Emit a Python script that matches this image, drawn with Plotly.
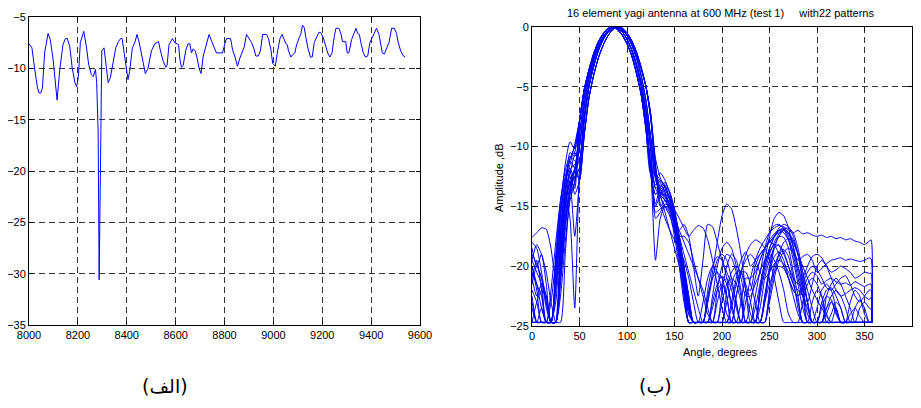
import plotly.graph_objects as go

# ---- left panel (الف): level vs frequency ----
freq = [8000, 8012, 8023, 8034, 8041, 8048, 8055, 8064, 8078, 8087,
        8098, 8109, 8115, 8126, 8139, 8149, 8157, 8167, 8177, 8188,
        8195, 8202, 8210, 8224, 8235, 8244, 8255, 8263, 8272, 8277,
        8283, 8287, 8291, 8298, 8307, 8314, 8324, 8333, 8344, 8355,
        8366, 8375, 8381, 8392, 8405, 8412, 8423, 8433, 8442, 8451,
        8460, 8470, 8476, 8487, 8501, 8515, 8524, 8530, 8538, 8549,
        8560, 8565, 8573, 8587, 8597, 8603, 8612, 8618, 8624, 8631,
        8642, 8651, 8658, 8665, 8672, 8680, 8688, 8696, 8704, 8713,
        8726, 8737, 8748, 8758, 8767, 8781, 8792, 8797, 8808, 8825,
        8833, 8842, 8853, 8863, 8874, 8881, 8890, 8901, 8911, 8922,
        8928, 8938, 8947, 8956, 8972, 8980, 8990, 8997, 9008, 9016,
        9027, 9036, 9044, 9051, 9057, 9062, 9072, 9078, 9088, 9095,
        9106, 9113, 9119, 9126, 9133, 9143, 9152, 9159, 9167, 9177,
        9186, 9193, 9204, 9215, 9222, 9231, 9240, 9249, 9256, 9268,
        9276, 9283, 9296, 9302, 9309, 9320, 9330, 9338, 9345, 9352,
        9358, 9368, 9377, 9386, 9395, 9405, 9416, 9422, 9432, 9439,
        9446, 9454, 9464, 9473, 9484, 9495, 9504, 9511, 9521, 9532,
        9539]
level = [-7.6, -8.0, -10.0, -11.8, -12.4, -12.4, -11.9, -8.5, -6.6, -7.2,
         -9.0, -11.4, -13.1, -10.1, -7.7, -7.1, -7.1, -7.9, -10.0, -11.4,
         -11.8, -10.8, -7.5, -6.4, -7.9, -9.6, -10.6, -10.8, -10.1, -11.4,
         -16.3, -30.6, -19.6, -8.3, -8.0, -9.5, -11.4, -10.9, -9.3, -8.0,
         -7.4, -7.1, -7.1, -8.8, -11.1, -10.3, -8.0, -7.5, -6.7, -7.5,
         -8.5, -9.5, -10.5, -10.0, -8.3, -7.6, -7.5, -7.4, -8.3, -9.3,
         -9.9, -9.7, -7.7, -7.1, -7.5, -7.6, -7.7, -9.2, -9.9, -9.7,
         -8.2, -7.6, -7.6, -8.5, -8.1, -8.3, -9.0, -10.0, -10.5, -8.8,
         -7.5, -6.7, -7.4, -7.9, -8.5, -8.5, -8.5, -8.0, -7.1, -7.1,
         -8.2, -8.8, -9.8, -9.0, -8.2, -7.9, -6.7, -7.1, -7.5, -8.2,
         -8.8, -8.8, -8.3, -6.7, -6.7, -7.1, -8.2, -9.5, -9.8, -8.5,
         -7.1, -6.7, -7.2, -7.6, -7.7, -8.3, -8.9, -8.7, -8.5, -7.7,
         -7.0, -6.6, -5.8, -6.0, -7.0, -8.2, -8.9, -8.9, -7.5, -7.0,
         -6.5, -6.5, -7.0, -7.9, -8.5, -8.9, -8.5, -6.9, -6.1, -6.1,
         -6.6, -7.4, -7.4, -8.5, -8.5, -7.2, -6.6, -6.1, -6.6, -6.7,
         -7.5, -8.5, -8.9, -8.8, -7.5, -7.0, -6.4, -6.1, -6.7, -7.5,
         -8.5, -8.6, -8.0, -7.5, -6.1, -6.1, -6.6, -7.5, -8.3, -8.8,
         -8.9]

# ---- right panel (ب): 22 antenna patterns ----
angle = [0, 5, 10, 15, 20, 25, 30, 35, 40, 45,
         50, 55, 60, 65, 70, 75, 80, 85, 90, 95, 100, 105, 110, 115, 120, 125,
         130, 135, 140, 145, 150, 155, 160, 165, 170, 175,
         180, 185, 190, 195, 200, 205, 210, 215, 220, 225,
         230, 235, 240, 245, 250, 255, 260, 265, 270, 275,
         280, 285, 290, 295, 300, 305, 310, 315, 320, 325,
         330, 335, 340, 345, 350, 355, 357, 358]

# main lobe samples, 50..125 deg (several slightly different beams)
lobe_base = [-10.0, -6.6, -4.3, -2.7, -1.6, -0.8, -0.3, 0.0, -0.1, -0.4, -1.0, -1.9, -3.1, -4.7, -7.0, -10.3]
lobe_right = [-11.2, -7.5, -4.9, -3.1, -1.9, -1.0, -0.45, -0.1, 0.0, -0.2, -0.7, -1.5, -2.6, -4.1, -6.2, -9.3]
lobe_left = [-9.0, -5.9, -3.8, -2.3, -1.3, -0.6, -0.15, 0.0, -0.25, -0.7, -1.4, -2.4, -3.8, -5.6, -8.0, -11.5]
lobe_early = [-7.9, -5.2, -3.55, -2.2, -1.2, -0.55, -0.12, 0.0, -0.18, -0.65, -1.4, -2.4, -3.9, -5.7, -8.6, -12.3]
lobe_late = [-12.8, -9.0, -5.9, -4.0, -2.55, -1.5, -0.72, -0.22, 0.0, -0.1, -0.5, -1.15, -2.1, -3.4, -5.0, -7.6]
lobe_wide = [-7.8, -5.35, -3.85, -2.5, -1.55, -0.82, -0.32, -0.04, -0.02, -0.24, -0.7, -1.4, -2.3, -3.55, -5.0, -7.3]
lobe_narrow = [-11.8, -7.8, -5.0, -3.3, -1.95, -1.05, -0.38, -0.04, -0.04, -0.38, -1.05, -1.95, -3.3, -5.0, -7.8, -11.8]

pattern_01 = ([-18.0, -18.5, -20.5, -23.0, -24.7, -24.7, -19.0, -14.0, -10.5, -10.8] + lobe_base +
              [-13.5, -13.2, -13.8, -15.0, -17.0, -19.5, -22.5, -24.7, -24.7, -24.7,
               -24.7, -22.0, -20.0, -19.2, -19.5, -21.0, -23.5, -24.7, -24.7, -23.0,
               -21.0, -19.5, -18.5, -17.8, -17.2, -16.8, -16.6, -16.7, -17.0, -17.2,
               -17.0, -17.3, -17.2, -17.4, -17.5, -17.4, -17.6, -17.5, -17.7, -17.6,
               -17.8, -17.7, -17.9, -18.0, -18.2, -17.9, -17.8, -24.7])
pattern_02 = ([-21.0, -19.5, -22.0, -24.7, -24.7, -20.0, -15.0, -11.5, -9.6, -10.2] + lobe_early +
              [-12.3, -12.8, -13.2, -14.5, -16.5, -19.0, -22.0, -24.7, -24.7, -24.7,
               -24.7, -23.0, -20.5, -18.0, -15.8, -14.8, -15.2, -16.8, -19.0, -22.0,
               -24.7, -24.7, -24.7, -24.7, -22.0, -20.0, -19.0, -18.6, -19.2, -21.0,
               -23.5, -24.7, -24.7, -23.0, -22.0, -22.5, -24.7, -24.7, -23.5, -24.7,
               -24.7, -24.7, -24.7, -24.7, -24.7, -24.7, -24.7, -24.7])
pattern_03 = ([-17.6, -17.2, -16.8, -16.9, -18.5, -21.0, -20.0, -15.5, -12.0, -11.5] + lobe_late +
              [-12.5, -14.0, -13.6, -14.2, -15.5, -17.0, -16.5, -17.5, -20.0, -22.5,
               -19.5, -16.5, -16.7, -18.0, -19.5, -20.5, -21.5, -23.0, -24.7, -24.7,
               -24.7, -24.7, -22.0, -19.5, -17.5, -16.0, -15.5, -15.8, -16.8, -18.5,
               -20.5, -22.5, -24.7, -24.7, -23.5, -22.0, -21.5, -22.0, -23.5, -24.7,
               -24.7, -23.0, -22.0, -22.5, -24.0, -24.7, -24.7, -24.7])
pattern_04 = ([-19.5, -20.5, -21.5, -24.7, -24.7, -24.7, -17.5, -13.5, -11.0, -10.5] + lobe_right +
              [-12.0, -13.5, -14.5, -15.0, -15.3, -16.0, -16.8, -17.5, -17.0, -16.6,
               -16.8, -17.8, -19.5, -21.5, -23.5, -24.7, -24.7, -22.5, -20.5, -19.0,
               -18.2, -17.8, -18.0, -18.5, -19.5, -21.0, -23.0, -24.7, -24.7, -24.7,
               -24.7, -23.0, -21.5, -21.0, -21.5, -22.5, -24.0, -24.7, -24.7, -24.7,
               -24.7, -24.7, -24.7, -24.7, -24.7, -24.7, -24.7, -24.7])
pattern_05 = ([-22.5, -24.7, -23.5, -24.7, -24.7, -22.0, -17.0, -14.5, -13.0, -12.5] + lobe_narrow +
              [-15.0, -14.0, -13.3, -13.8, -15.5, -18.0, -21.0, -24.0, -24.7, -24.7,
               -24.7, -24.7, -24.7, -24.7, -22.0, -20.0, -19.0, -19.5, -21.0, -22.5,
               -22.5, -21.5, -20.5, -18.5, -17.2, -16.6, -16.5, -16.9, -17.8, -19.5,
               -21.5, -23.5, -24.7, -24.7, -24.7, -23.0, -22.0, -21.8, -22.5, -23.5,
               -24.7, -24.7, -24.7, -24.7, -24.7, -24.7, -24.7, -24.7])
pattern_06 = ([-20.0, -22.0, -24.7, -24.7, -24.7, -19.0, -14.5, -12.5, -11.2, -11.8] + lobe_wide +
              [-11.0, -12.6, -13.5, -14.5, -16.0, -18.5, -21.5, -24.7, -24.7, -24.7,
               -23.0, -21.0, -20.0, -20.5, -22.0, -24.0, -24.7, -24.7, -24.7, -22.0,
               -22.0, -20.0, -19.0, -18.5, -18.0, -17.5, -17.0, -16.9, -17.5, -19.0,
               -21.0, -22.5, -23.0, -21.5, -20.0, -19.5, -20.0, -21.0, -22.0, -22.5,
               -22.3, -22.0, -21.8, -22.0, -22.5, -22.8, -22.6, -24.7])
pattern_07 = ([-24.7, -24.7, -24.7, -24.7, -24.7, -24.7, -20.5, -16.0, -14.0, -13.0] + lobe_left +
              [-13.5, -14.2, -15.0, -15.8, -17.0, -18.8, -21.0, -23.5, -24.7, -24.7,
               -24.7, -22.5, -21.0, -20.5, -21.0, -22.5, -24.7, -24.7, -23.0, -21.0,
               -21.0, -20.5, -19.5, -18.5, -17.8, -17.3, -17.0, -17.2, -17.8, -18.8,
               -20.0, -21.5, -23.0, -24.7, -24.7, -24.7, -23.5, -23.0, -23.8, -24.7,
               -24.7, -24.0, -23.5, -24.2, -24.7, -24.7, -24.7, -24.7])
pattern_08 = ([-19.0, -19.8, -21.0, -22.5, -24.7, -22.0, -16.0, -12.8, -11.0, -10.0] + lobe_early +
              [-14.0, -13.4, -13.0, -13.8, -15.2, -17.5, -20.5, -23.5, -24.7, -24.7,
               -24.7, -24.7, -23.0, -21.5, -20.8, -21.5, -23.0, -24.7, -24.7, -24.7,
               -23.0, -21.0, -19.5, -18.5, -18.0, -18.2, -19.0, -20.0, -21.0, -22.0,
               -22.5, -22.0, -21.0, -20.5, -20.8, -21.5, -21.2, -21.0, -21.3, -21.5,
               -21.4, -21.6, -21.3, -21.5, -21.7, -21.5, -21.5, -24.7])
pattern_09 = ([-23.0, -24.7, -24.7, -24.7, -24.7, -24.7, -18.5, -14.0, -12.0, -14.0] + lobe_late +
              [-11.5, -15.0, -14.5, -14.8, -16.0, -18.0, -20.5, -23.0, -24.7, -24.7,
               -24.7, -24.7, -24.7, -22.0, -20.0, -19.0, -19.3, -20.5, -22.5, -24.7,
               -24.7, -22.5, -20.5, -19.5, -19.0, -19.5, -20.5, -22.0, -24.0, -24.7,
               -24.7, -24.7, -24.7, -24.7, -24.7, -23.5, -22.5, -22.8, -24.0, -24.7,
               -24.7, -24.7, -24.7, -24.7, -24.7, -24.7, -24.7, -24.7])
pattern_10 = ([-18.5, -20.0, -19.0, -21.5, -24.7, -24.7, -21.0, -16.5, -13.5, -12.0] + lobe_base +
              [-16.0, -15.5, -14.8, -15.0, -16.0, -17.5, -19.0, -20.5, -22.0, -23.5,
               -24.7, -24.7, -24.7, -24.7, -24.7, -23.0, -21.5, -20.5, -20.5, -21.5,
               -23.0, -24.7, -23.5, -21.0, -19.5, -18.5, -18.2, -18.8, -20.0, -21.5,
               -23.0, -24.7, -24.7, -24.7, -24.7, -24.7, -24.0, -23.0, -23.5, -24.7,
               -24.7, -24.7, -24.7, -24.7, -24.7, -24.7, -24.7, -24.7])
pattern_11 = ([-24.7, -24.7, -24.7, -24.7, -22.0, -18.0, -14.5, -12.0, -10.8, -11.2] + lobe_right +
              [-12.5, -12.2, -12.8, -14.0, -15.8, -18.3, -21.5, -24.7, -24.7, -24.7,
               -24.7, -24.7, -22.5, -20.0, -18.5, -18.0, -18.5, -20.0, -22.0, -24.7,
               -24.7, -24.7, -24.7, -23.0, -20.5, -18.5, -17.5, -17.0, -17.3, -18.3,
               -20.0, -22.0, -24.0, -24.7, -24.7, -24.7, -22.5, -21.5, -21.0, -21.5,
               -22.5, -23.5, -24.7, -24.7, -24.7, -24.7, -24.7, -24.7])
pattern_12 = ([-21.5, -20.0, -21.0, -23.5, -24.7, -23.0, -17.5, -13.5, -12.5, -13.5] + lobe_wide +
              [-12.0, -14.0, -15.5, -17.0, -18.5, -20.0, -22.0, -24.0, -24.7, -24.7,
               -24.7, -24.7, -24.7, -24.7, -24.7, -24.7, -24.7, -24.7, -24.7, -24.7,
               -24.7, -24.7, -22.5, -20.5, -19.0, -18.0, -17.3, -17.0, -17.2, -17.8,
               -19.0, -21.0, -23.0, -24.7, -24.7, -24.7, -23.5, -22.5, -22.0, -22.5,
               -23.5, -24.7, -24.7, -24.7, -24.7, -24.7, -24.7, -24.7])
pattern_13 = ([-24.7, -24.7, -24.7, -24.7, -24.7, -21.0, -16.5, -14.0, -16.0, -23.5] + lobe_narrow +
              [-19.5, -16.0, -15.0, -15.2, -16.5, -18.5, -21.0, -23.5, -24.7, -24.7,
               -24.7, -24.7, -24.7, -23.0, -21.5, -21.0, -22.0, -23.5, -24.7, -24.7,
               -24.7, -24.7, -24.7, -22.5, -20.0, -18.3, -17.5, -17.6, -18.5, -20.5,
               -22.5, -24.7, -24.7, -24.7, -24.7, -24.7, -24.7, -24.7, -24.7, -24.7,
               -24.7, -24.7, -23.5, -22.8, -23.5, -24.7, -24.7, -24.7])
pattern_14 = ([-20.5, -21.5, -22.5, -24.7, -24.7, -24.7, -19.5, -15.0, -13.0, -17.5] + lobe_late +
              [-11.8, -14.8, -16.0, -17.0, -17.8, -18.5, -19.5, -21.0, -23.0, -24.7,
               -24.7, -23.0, -21.0, -19.5, -19.0, -19.5, -21.0, -23.0, -24.7, -24.7,
               -24.7, -24.7, -24.7, -22.5, -20.5, -19.2, -18.8, -19.5, -21.0, -22.5,
               -24.0, -24.7, -24.7, -24.7, -24.7, -24.7, -24.7, -24.0, -23.0, -23.5,
               -24.7, -24.7, -24.7, -24.7, -24.7, -24.7, -24.7, -24.7])
pattern_15 = ([-19.5, -18.2, -19.0, -20.5, -23.0, -24.7, -18.5, -14.5, -12.2, -10.5] + lobe_early +
              [-14.0, -13.6, -14.2, -15.0, -16.5, -18.5, -21.0, -23.5, -24.7, -24.7,
               -24.7, -24.7, -24.7, -24.7, -23.0, -21.5, -21.0, -21.5, -23.0, -24.7,
               -24.7, -24.7, -22.0, -20.0, -18.8, -18.2, -18.3, -19.0, -20.0, -21.0,
               -21.5, -21.0, -20.0, -19.2, -19.0, -19.3, -20.0, -20.5, -20.3, -20.0,
               -20.2, -20.5, -21.0, -20.8, -20.5, -20.6, -20.6, -24.7])
pattern_16 = ([-24.7, -24.7, -24.7, -24.7, -24.7, -24.7, -24.7, -19.0, -14.0, -12.0] + lobe_right +
              [-12.8, -13.8, -14.2, -15.5, -17.5, -20.0, -23.0, -24.7, -24.7, -24.7,
               -24.7, -24.7, -23.5, -22.0, -21.5, -22.5, -24.7, -24.7, -24.7, -24.7,
               -24.7, -24.7, -22.0, -20.0, -18.5, -17.5, -16.8, -16.5, -16.7, -17.5,
               -19.0, -21.5, -24.7, -24.7, -24.7, -24.7, -24.7, -24.7, -24.7, -24.7,
               -24.7, -24.7, -24.7, -24.7, -24.7, -24.7, -24.7, -24.7])
pattern_17 = ([-22.0, -23.0, -24.7, -24.7, -24.7, -20.5, -15.5, -12.8, -11.8, -12.8] + lobe_base +
              [-15.5, -15.2, -15.0, -15.5, -16.5, -18.0, -20.0, -22.5, -24.7, -24.7,
               -24.7, -24.7, -24.7, -24.7, -24.7, -24.7, -23.0, -21.0, -19.5, -18.8,
               -20.0, -19.5, -19.0, -18.5, -18.0, -17.5, -17.2, -16.9, -16.8, -17.2,
               -18.5, -20.5, -23.0, -24.7, -24.7, -24.7, -24.7, -24.7, -24.7, -24.7,
               -24.7, -24.7, -24.7, -23.5, -23.0, -23.5, -23.6, -24.7])
pattern_18 = ([-24.7, -23.0, -22.0, -22.5, -24.7, -24.7, -19.0, -14.8, -12.8, -11.8] + lobe_left +
              [-12.5, -13.0, -13.8, -15.0, -16.5, -17.5, -17.5, -18.0, -19.5, -21.0,
               -22.5, -24.0, -24.7, -24.7, -24.7, -24.7, -24.7, -22.5, -20.5, -19.5,
               -19.0, -19.5, -20.5, -21.0, -20.5, -19.8, -19.5, -19.8, -20.5, -21.5,
               -22.0, -22.5, -23.5, -24.7, -24.7, -24.7, -24.7, -24.7, -24.7, -24.7,
               -24.7, -24.7, -24.7, -24.7, -24.7, -24.7, -24.7, -24.7])
pattern_19 = ([-20.0, -21.5, -23.5, -24.7, -24.7, -24.7, -21.5, -17.0, -13.8, -12.5] + lobe_narrow +
              [-13.2, -12.9, -13.3, -14.5, -16.5, -19.0, -22.0, -24.7, -24.7, -24.7,
               -24.7, -24.7, -24.7, -24.7, -24.7, -22.0, -20.5, -20.0, -20.5, -22.0,
               -24.0, -24.7, -24.7, -23.0, -21.5, -20.5, -20.0, -20.2, -21.0, -22.0,
               -22.5, -21.5, -20.5, -20.0, -20.3, -21.0, -21.8, -22.0, -21.5, -21.0,
               -20.8, -21.5, -22.5, -23.0, -22.5, -22.0, -22.0, -24.7])
pattern_20 = ([-23.5, -24.7, -24.7, -24.7, -23.0, -19.5, -15.5, -13.0, -11.5, -9.8] + lobe_wide +
              [-11.5, -14.0, -14.0, -14.3, -15.5, -17.5, -20.0, -23.0, -24.7, -24.7,
               -24.7, -24.7, -24.7, -24.7, -24.7, -24.7, -24.7, -24.7, -24.7, -24.7,
               -24.7, -23.5, -21.5, -19.8, -18.5, -17.6, -17.0, -16.8, -17.2, -18.0,
               -19.0, -20.0, -21.0, -22.0, -22.8, -23.5, -24.2, -24.7, -24.7, -24.7,
               -24.7, -24.7, -24.7, -24.7, -24.7, -24.7, -24.7, -24.7])
pattern_21 = ([-21.0, -22.5, -21.5, -23.0, -24.7, -24.7, -20.0, -15.8, -13.2, -12.0] + lobe_late +
              [-11.8, -14.0, -14.5, -15.2, -16.0, -17.0, -18.0, -19.0, -20.0, -21.0,
               -22.0, -23.5, -24.7, -24.7, -24.7, -24.7, -24.7, -24.7, -24.7, -24.7,
               -24.7, -24.7, -24.7, -24.7, -22.5, -20.5, -19.0, -18.0, -17.7, -18.0,
               -19.0, -20.5, -22.0, -23.5, -24.7, -24.7, -24.7, -24.7, -24.7, -24.7,
               -24.7, -24.7, -24.7, -24.7, -24.7, -24.7, -24.7, -24.7])
pattern_22 = ([-24.7, -24.7, -24.7, -24.7, -24.7, -24.7, -22.5, -18.0, -14.5, -13.0] + lobe_early +
              [-14.8, -13.4, -14.0, -14.8, -16.0, -17.8, -20.0, -22.5, -24.7, -24.7,
               -24.7, -24.7, -24.7, -24.7, -24.7, -24.7, -23.5, -21.5, -20.5, -20.5,
               -21.5, -23.0, -24.7, -24.7, -23.0, -21.0, -19.5, -18.8, -18.5, -18.8,
               -19.5, -19.2, -19.0, -19.5, -20.5, -20.2, -19.8, -19.5, -19.4, -19.3,
               -19.5, -19.4, -19.5, -19.6, -19.5, -19.3, -19.4, -24.7])

patterns = [pattern_01, pattern_02, pattern_03, pattern_04, pattern_05, pattern_06,
            pattern_07, pattern_08, pattern_09, pattern_10, pattern_11, pattern_12,
            pattern_13, pattern_14, pattern_15, pattern_16, pattern_17, pattern_18,
            pattern_19, pattern_20, pattern_21, pattern_22]

# the page body has an 8px margin, so the figure is 8px smaller than the window
OFF = 8
W, H = 921 - OFF, 408 - OFF
BLUE = '#0000FF'
FONT = 'Liberation Sans, Arial, sans-serif'


def px(x):
    return (x - OFF) / W


def py(y):
    return 1 - (y - OFF) / H


fig = go.Figure()

fig.add_trace(go.Scatter(x=freq, y=level, mode='lines',
                         line=dict(color=BLUE, width=1), xaxis='x', yaxis='y',
                         showlegend=False))

for p in patterns:
    fig.add_trace(go.Scatter(x=angle, y=p, mode='lines',
                             line=dict(color=BLUE, width=1, shape='spline', smoothing=0.6),
                             xaxis='x2', yaxis='y2', showlegend=False))


def axis_style(**kw):
    d = dict(showline=True, linecolor='black', linewidth=1, mirror='ticks',
             ticks='inside', ticklen=4, tickcolor='black', automargin=False,
             showgrid=True, gridcolor='#333333', gridwidth=1, griddash='6px,4px',
             zeroline=False, tickfont=dict(family=FONT, size=11, color='black'))
    d.update(kw)
    return d


fig.update_layout(
    width=W, height=H,
    margin=dict(l=0, r=0, t=0, b=0, pad=0),
    paper_bgcolor='white', plot_bgcolor='white',
    font=dict(family=FONT, size=11, color='black'),
    xaxis=axis_style(domain=[px(29), px(420)], range=[8000, 9600], dtick=200,
                     anchor='y'),
    yaxis=axis_style(domain=[py(325), py(17)], range=[-35, -5], dtick=5,
                     anchor='x'),
    xaxis2=axis_style(domain=[px(532), px(912)], range=[0, 400], dtick=50,
                      anchor='y2'),
    yaxis2=axis_style(domain=[py(326), py(27)], range=[-25, 0], dtick=5,
                      anchor='x2'),
)


def label(text, x, y, size=11, family=FONT, angle=0):
    fig.add_annotation(text=text, x=px(x), y=py(y), xref='paper', yref='paper',
                       xanchor='center', yanchor='middle', textangle=angle,
                       showarrow=False, font=dict(family=family, size=size, color='black'))


label('16 element yagi antenna at 600 MHz (test 1)     with22 patterns', 720, 13)
label('Amplitude ,dB', 499, 178, angle=-90)
label('Angle, degrees', 720, 352)
label('(الف)', 165, 386, size=19, family='DejaVu Sans')
label('(ب)', 655, 386, size=19, family='DejaVu Sans')

fig.write_html("out.html")
